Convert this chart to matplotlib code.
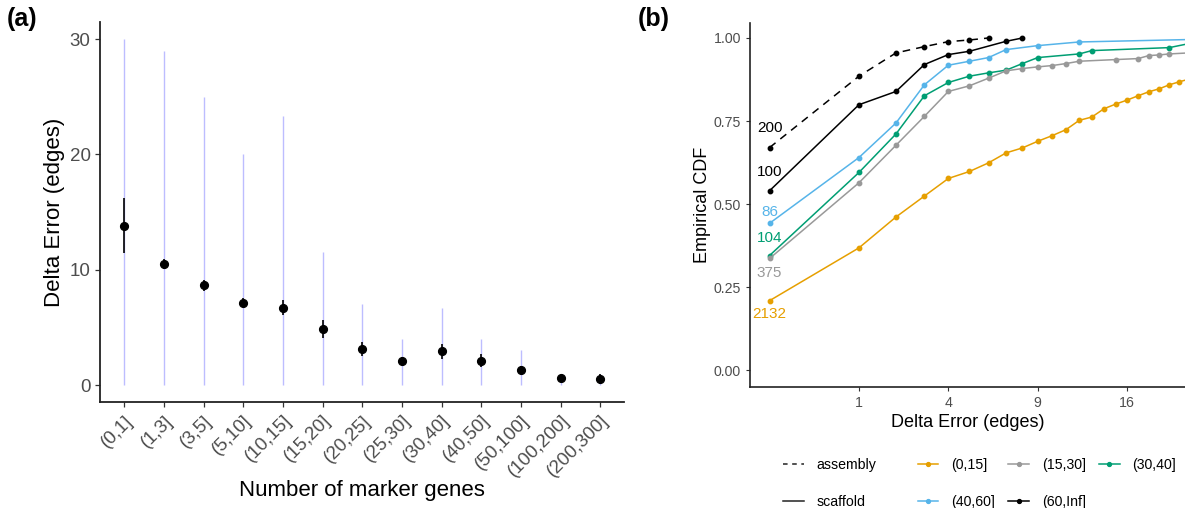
import numpy as np
import matplotlib
matplotlib.use("Agg")
import matplotlib.pyplot as plt
from matplotlib.lines import Line2D

plt.rcParams['font.family'] = ['Liberation Sans', 'DejaVu Sans']

# --- (a) delta error by number of marker genes ---
marker_bins = ["(0,1]", "(1,3]", "(3,5]", "(5,10]", "(10,15]", "(15,20]", "(20,25]",
               "(25,30]", "(30,40]", "(40,50]", "(50,100]", "(100,200]", "(200,300]"]
delta_mean = [13.82, 10.54, 8.67, 7.15, 6.72, 4.85, 3.13, 2.07, 2.93, 2.12, 1.32, 0.6, 0.52]
delta_lo = [11.43, 10.09, 8.16, 6.78, 6.06, 4.08, 2.53, 1.72, 2.27, 1.55, 0.97, 0.42, 0.08]
delta_hi = [16.2, 10.95, 9.14, 7.55, 7.36, 5.63, 3.70, 2.47, 3.59, 2.72, 1.69, 0.78, 0.97]
delta_min = [0] * 13
delta_max = [30, 29, 25, 20, 23.3, 11.5, 7, 4, 6.7, 4, 3, 1, 1]

# --- (b) empirical CDF of delta error ---
asm_x = [0, 1, 2, 3, 4, 5, 6]
asm_y = [0.670, 0.885, 0.955, 0.974, 0.989, 0.994, 1.0]

inf_x = [0, 1, 2, 3, 4, 5, 7, 8]
inf_y = [0.540, 0.799, 0.839, 0.920, 0.950, 0.960, 0.990, 1.0]

b40_x = [0, 1, 2, 3, 4, 5, 6, 7, 9, 12, 30]
b40_y = [0.442, 0.640, 0.744, 0.859, 0.918, 0.930, 0.941, 0.965, 0.977, 0.988, 1.0]

b30_x = [0, 1, 2, 3, 4, 5, 6, 7, 8, 9, 12, 13, 20, 25]
b30_y = [0.345, 0.595, 0.711, 0.826, 0.866, 0.885, 0.895, 0.903, 0.923, 0.941,
         0.952, 0.962, 0.971, 1.0]

b15_x = [0, 1, 2, 3, 4, 5, 6, 7, 8, 9, 10, 11, 12, 15, 17, 18, 19, 20, 24]
b15_y = [0.336, 0.564, 0.677, 0.764, 0.839, 0.856, 0.879, 0.901, 0.908, 0.913,
         0.917, 0.923, 0.930, 0.935, 0.938, 0.947, 0.949, 0.952, 0.958]

b0_x = list(range(23))
b0_y = [0.209, 0.368, 0.461, 0.524, 0.577, 0.598, 0.624, 0.654, 0.669, 0.689,
        0.706, 0.724, 0.752, 0.762, 0.787, 0.801, 0.813, 0.826, 0.838, 0.847,
        0.859, 0.868, 0.876]

counts = ["200", "100", "86", "104", "375", "2132"]
count_offsets = [0.058, 0.057, 0.035, 0.052, -0.045, -0.040]

ORANGE, GREY, GREEN, SKY, BLACK = "#E69F00", "#999999", "#009E73", "#56B4E9", "#000000"
TICK_COL = "#4D4D4D"

fig = plt.figure(figsize=(11.85, 5.08), dpi=100)

# ---------------- panel (a) ----------------
ax1 = fig.add_axes([0.0847, 0.208, 0.442, 0.749])
xpos = np.arange(1, len(marker_bins) + 1)
ax1.vlines(xpos, delta_min, delta_max, color=(0.74, 0.74, 1.0), lw=1.0, zorder=1)
ax1.vlines(xpos, delta_lo, delta_hi, color="black", lw=1.2, zorder=2)
ax1.plot(xpos, delta_mean, "o", color="black", ms=5.6, zorder=3)

ax1.set_xlim(0.4, len(marker_bins) + 0.6)
ax1.set_ylim(-1.5, 31.5)
ax1.set_yticks([0, 10, 20, 30])
ax1.set_xticks(xpos)
ax1.set_xticklabels(marker_bins, rotation=45, ha="right", va="top",
                    rotation_mode="anchor")
ax1.tick_params(axis="both", labelsize=13.5, colors="#333333", labelcolor=TICK_COL,
                length=3.5, width=0.9)
ax1.set_ylabel("Delta Error (edges)", fontsize=16, labelpad=3)
ax1.set_xlabel("Number of marker genes", fontsize=16, labelpad=0)
for s in ["top", "right"]:
    ax1.spines[s].set_visible(False)
for s in ["left", "bottom"]:
    ax1.spines[s].set_linewidth(1.3)
    ax1.spines[s].set_color("#222222")

# ---------------- panel (b) ----------------
ax2 = fig.add_axes([0.6329, 0.2388, 0.3671, 0.7165])
series = [
    (asm_x, asm_y, BLACK, "--"),
    (inf_x, inf_y, BLACK, "-"),
    (b40_x, b40_y, SKY, "-"),
    (b30_x, b30_y, GREEN, "-"),
    (b15_x, b15_y, GREY, "-"),
    (b0_x, b0_y, ORANGE, "-"),
]
for xs, ys, col, ls in series:
    ax2.plot(np.sqrt(xs), ys, ls=ls, color=col, lw=1.1, marker="o", ms=3.2,
             dashes=(5, 4) if ls == "--" else (None, None), clip_on=True)

for (xs, ys, col, ls), lab, off in zip(series, counts, count_offsets):
    ax2.text(np.sqrt(xs[0]), ys[0] + off, lab, color=col, fontsize=11,
             ha="center", va="center")

ax2.set_xlim(-0.219, np.sqrt(21.6))
ax2.set_ylim(-0.05, 1.046)
xt = [1, 4, 9, 16]
ax2.set_xticks(np.sqrt(xt))
ax2.set_xticklabels([str(v) for v in xt])
ax2.set_yticks([0, 0.25, 0.5, 0.75, 1.0])
ax2.set_yticklabels(["0.00", "0.25", "0.50", "0.75", "1.00"])
ax2.tick_params(axis="both", labelsize=10.2, colors="#333333", labelcolor=TICK_COL,
                length=3, width=0.8)
ax2.set_ylabel("Empirical CDF", fontsize=13, labelpad=2)
ax2.set_xlabel("Delta Error (edges)", fontsize=13, labelpad=3)
for s in ["top", "right"]:
    ax2.spines[s].set_visible(False)
for s in ["left", "bottom"]:
    ax2.spines[s].set_linewidth(1.2)
    ax2.spines[s].set_color("#222222")

# legends: line type and marker-gene bin
lt_handles = [Line2D([], [], color="#222222", lw=1.1, ls="--", dashes=(3, 3)),
              Line2D([], [], color="#222222", lw=1.1)]
fig.legend(lt_handles, ["assembly", "scaffold"], loc="upper left",
           bbox_to_anchor=(0.661, 0.098), frameon=False, fontsize=10.2,
           handlelength=1.45, handletextpad=0.9, labelspacing=1.6,
           borderpad=0, borderaxespad=0)

bin_labels = ["(0,15]", "(40,60]", "(15,30]", "(60,Inf]", "(30,40]"]
bin_cols = [ORANGE, SKY, GREY, BLACK, GREEN]
bin_handles = [Line2D([], [], color=c, lw=1.1, marker="o", ms=2.8) for c in bin_cols]
fig.legend(bin_handles, bin_labels, loc="upper left", ncol=3,
           bbox_to_anchor=(0.7745, 0.098), frameon=False, fontsize=10.2,
           handlelength=1.45, handletextpad=0.9, labelspacing=1.6,
           columnspacing=0.95, borderpad=0, borderaxespad=0)

fig.text(0.006, 0.962, "(a)", fontsize=18, fontweight="bold", va="center")
fig.text(0.538, 0.962, "(b)", fontsize=18, fontweight="bold", va="center")

fig.savefig("out.png", dpi=100)
